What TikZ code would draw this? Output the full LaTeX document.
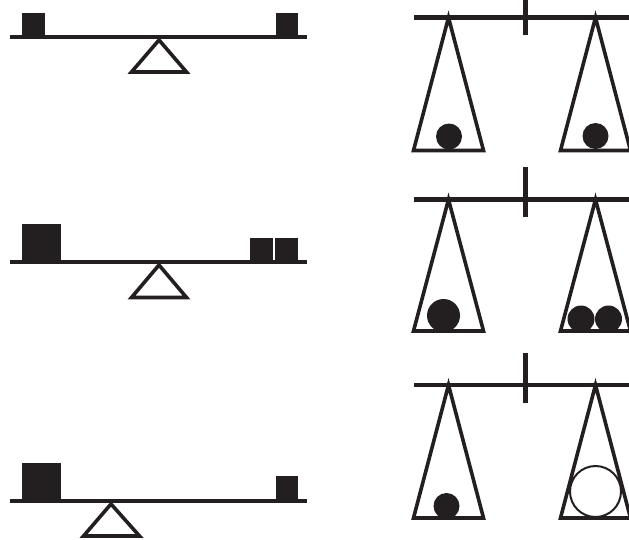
\documentclass[tikz,border=0pt]{standalone}
\begin{document}
\begin{tikzpicture}[x=1pt,y=-1pt,
  ink/.style={draw=inkc,line width=3.6pt},
  beam/.style={draw=inkc,line width=4.4pt},
  block/.style={fill=inkc},
  ball/.style={fill=inkc},
  openball/.style={draw=inkc,line width=2pt},
  pan/.style={draw=inkc,line width=3.6pt,line join=miter,miter limit=20},
  fulcrum/.style={draw=inkc,line width=3.6pt,line join=miter,miter limit=20}]
\definecolor{inkc}{HTML}{231F20}
\useasboundingbox (0,0) rectangle (629,539);
\clip (0,0) rectangle (629,539);
% ---------- seesaw 1 ----------
\fill[block] (22,13) rectangle (45,37);
\fill[block] (276,13) rectangle (298,37);
\draw[fulcrum] (159,40) -- (186.5,72) -- (131.5,72) -- cycle;
\draw[beam] (10,37) -- (307,37);
% ---------- seesaw 2 ----------
\fill[block] (22,224) rectangle (61,262);
\fill[block] (250,238) rectangle (273,262);
\fill[block] (275,238) rectangle (298,262);
\draw[fulcrum] (159,265) -- (186.5,297.5) -- (131.5,297.5) -- cycle;
\draw[beam] (10,262) -- (307,262);
% ---------- seesaw 3 ----------
\fill[block] (22,463) rectangle (61,501);
\fill[block] (276,476) rectangle (298,501);
\draw[fulcrum] (111,504) -- (139.5,536) -- (83.5,536) -- cycle;
\draw[beam] (10,501) -- (307,501);
% ---------- balance 1 ----------
\draw[beam] (414,17.5) -- (640,17.5);
\draw[beam] (525.5,-2) -- (525.5,35);
\draw[pan] (448.5,17.5) -- (483.5,150.5) -- (413.5,150.5) -- cycle;
\draw[pan] (595.5,17.5) -- (630.5,150.5) -- (560.5,150.5) -- cycle;
\fill[ball] (449,136.5) circle (13);
\fill[ball] (595.5,136) circle (13);
% ---------- balance 2 ----------
\draw[beam] (414,199.5) -- (640,199.5);
\draw[beam] (525.5,167) -- (525.5,217);
\draw[pan] (448.5,199.5) -- (483.5,331) -- (413.5,331) -- cycle;
\draw[pan] (595.5,199.5) -- (630.5,331) -- (560.5,331) -- cycle;
\fill[ball] (443.5,315.5) circle (16.5);
\fill[ball] (581,319) circle (13.5);
\fill[ball] (608.5,319) circle (13.5);
% ---------- balance 3 ----------
\draw[beam] (414,385) -- (640,385);
\draw[beam] (525.5,353) -- (525.5,403);
\draw[pan] (448.5,385) -- (483.5,518) -- (413.5,518) -- cycle;
\draw[pan] (595.5,385) -- (630.5,518) -- (560.5,518) -- cycle;
\fill[ball] (446.5,506) circle (13);
\draw[openball] (595.5,491.5) circle (25.5);
\end{tikzpicture}
\end{document}
